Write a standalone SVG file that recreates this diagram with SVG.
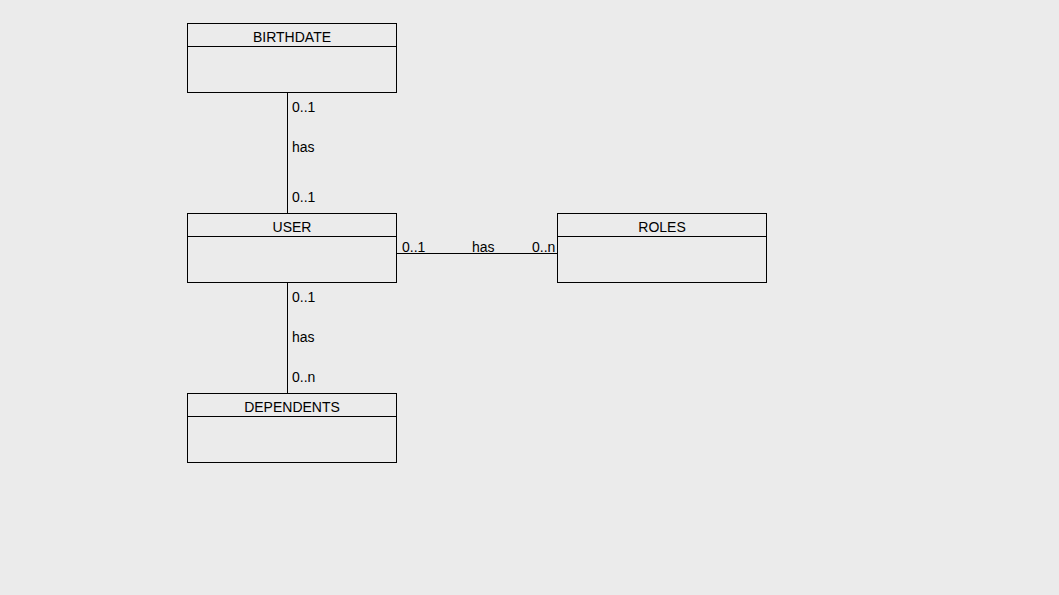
<svg xmlns="http://www.w3.org/2000/svg" width="1059" height="595" viewBox="0 0 1059 595">
<style>
.box{fill:none;stroke:#000;stroke-width:1}
.t{font-family:"Liberation Sans",Arial,sans-serif;font-size:14px;fill:#000}
.c{text-anchor:middle}
.ln{stroke:#000;stroke-width:1;fill:none}
</style>
<rect width="1059" height="595" fill="#ebebeb"/>
<g id="connectors">
<line class="ln" x1="287.5" y1="92.5" x2="287.5" y2="213.5"/>
<line class="ln" x1="287.5" y1="282.5" x2="287.5" y2="393.5"/>
<line class="ln" x1="396.5" y1="253.5" x2="557.5" y2="253.5"/>
<text class="t" x="292" y="111.5">0..1</text>
<text class="t" x="292" y="151.5">has</text>
<text class="t" x="292" y="201.5">0..1</text>
<text class="t" x="292" y="301.5">0..1</text>
<text class="t" x="292" y="341.5">has</text>
<text class="t" x="292" y="381.5">0..n</text>
<text class="t" x="402" y="251.5">0..1</text>
<text class="t" x="472" y="251.5">has</text>
<text class="t" x="532" y="251.5">0..n</text>
</g>
<g id="birthdate">
<rect class="box" x="187.5" y="23.5" width="209" height="69"/>
<line class="ln" x1="187.5" y1="46.5" x2="396.5" y2="46.5"/>
<text class="t c" x="292" y="41.5">BIRTHDATE</text>
</g>
<g id="user">
<rect class="box" x="187.5" y="213.5" width="209" height="69"/>
<line class="ln" x1="187.5" y1="236.5" x2="396.5" y2="236.5"/>
<text class="t c" x="292" y="231.5">USER</text>
</g>
<g id="roles">
<rect class="box" x="557.5" y="213.5" width="209" height="69"/>
<line class="ln" x1="557.5" y1="236.5" x2="766.5" y2="236.5"/>
<text class="t c" x="662" y="231.5">ROLES</text>
</g>
<g id="dependents">
<rect class="box" x="187.5" y="393.5" width="209" height="69"/>
<line class="ln" x1="187.5" y1="416.5" x2="396.5" y2="416.5"/>
<text class="t c" x="292" y="411.5">DEPENDENTS</text>
</g>
</svg>
